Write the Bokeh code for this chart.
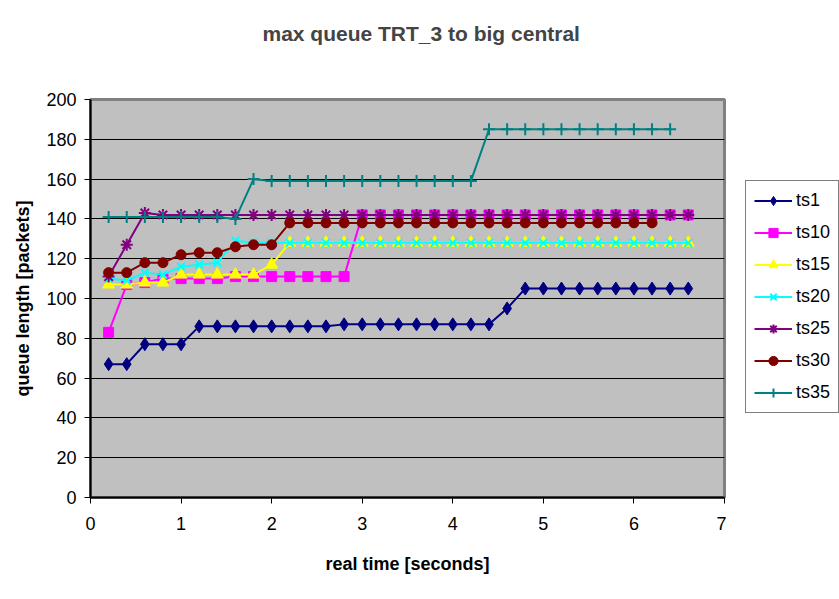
from bokeh.plotting import figure
from bokeh.models import Range1d, FixedTicker, Legend, LegendItem, Title
from bokeh.layouts import row
from bokeh.embed import file_html
from bokeh.resources import INLINE

# ---- data ----
x_ts1 = [0.2, 0.4, 0.6, 0.8, 1.0, 1.2, 1.4, 1.6, 1.8, 2.0, 2.2, 2.4, 2.6, 2.8, 3.0, 3.2, 3.4,
         3.6, 3.8, 4.0, 4.2, 4.4, 4.6, 4.8, 5.0, 5.2, 5.4, 5.6, 5.8, 6.0, 6.2, 6.4, 6.6]
ts1 = [67, 67, 77, 77, 77, 86, 86, 86, 86, 86, 86, 86, 86, 87, 87, 87, 87,
       87, 87, 87, 87, 87, 95, 105, 105, 105, 105, 105, 105, 105, 105, 105, 105]
ts10 = [83, 107, 108, 110, 110, 110, 110, 111, 111, 111, 111, 111, 111, 111, 142, 142, 142,
        142, 142, 142, 142, 142, 142, 142, 142, 142, 142, 142, 142, 142, 142, 142, 142]
ts15 = [107, 107, 108, 108, 112, 112, 112, 112, 112, 117, 128, 128, 128, 128, 128, 128, 128,
        128, 128, 128, 128, 128, 128, 128, 128, 128, 128, 128, 128, 128, 128, 128, 128]
ts20 = [110, 109, 113, 112, 116, 117, 118, 129, 128, 128, 128, 128, 128, 128, 128, 128, 128,
        128, 128, 128, 128, 128, 128, 128, 128, 128, 128, 128, 128, 128, 128, 128, 128]
ts25 = [111, 127, 143, 142, 142, 142, 142, 142, 142, 142, 142, 142, 142, 142, 142, 142, 142,
        142, 142, 142, 142, 142, 142, 142, 142, 142, 142, 142, 142, 142, 142, 142, 142]
x_ts30 = [0.2, 0.4, 0.6, 0.8, 1.0, 1.2, 1.4, 1.6, 1.8, 2.0, 2.2, 2.4, 2.6, 2.8, 3.0, 3.2,
          3.4, 3.6, 3.8, 4.0, 4.2, 4.4, 4.6, 4.8, 5.0, 5.2, 5.4, 5.6, 5.8, 6.0, 6.2]
ts30 = [113, 113, 118, 118, 122, 123, 123, 126, 127, 127, 138, 138, 138, 138, 138, 138,
        138, 138, 138, 138, 138, 138, 138, 138, 138, 138, 138, 138, 138, 138, 138]
x_ts35 = [0.2, 0.4, 0.6, 0.8, 1.0, 1.2, 1.4, 1.6, 1.8, 2.0, 2.2, 2.4, 2.6, 2.8, 3.0, 3.2,
          3.4, 3.6, 3.8, 4.0, 4.2, 4.4, 4.6, 4.8, 5.0, 5.2, 5.4, 5.6, 5.8, 6.0, 6.2, 6.4]
ts35 = [141, 141, 141, 141, 141, 141, 141, 140, 160, 159, 159, 159, 159, 159, 159, 159,
        159, 159, 159, 159, 159, 185, 185, 185, 185, 185, 185, 185, 185, 185, 185, 185]

y_ticks = [0, 20, 40, 60, 80, 100, 120, 140, 160, 180, 200]
x_ticks = [0, 1, 2, 3, 4, 5, 6, 7]

series = [
    ("ts1", x_ts1, ts1, "#000080", "diamond", 13),
    ("ts10", x_ts1, ts10, "#FF00FF", "square", 10),
    ("ts15", x_ts1, ts15, "#FFFF00", "triangle", 12),
    ("ts20", x_ts1, ts20, "#00FFFF", "x", 11),
    ("ts25", x_ts1, ts25, "#800080", "asterisk", 12),
    ("ts30", x_ts30, ts30, "#800000", "circle", 10),
    ("ts35", x_ts35, ts35, "#008080", "cross", 12),
]

FONT = "Liberation Sans"

p = figure(width=726, height=599, output_backend="svg", toolbar_location=None,
           x_range=Range1d(0, 7), y_range=Range1d(0, 200),
           min_border_left=90, min_border_right=2, min_border_top=99, min_border_bottom=102,
           title="max queue TRT_3 to big central")

p.title.text_font = FONT
p.title.text_font_size = "21px"
p.title.text_font_style = "bold"
p.title.align = "left"
p.title.offset = 172
p.title.standoff = 10

# spacer between title and plot area
p.add_layout(Title(text=" ", text_font_size="2px", standoff=46), "above")

p.background_fill_color = "#C0C0C0"
p.border_fill_color = "white"
p.outline_line_color = "#808080"
p.outline_line_width = 3

p.xgrid.grid_line_color = None
p.ygrid.grid_line_color = "black"
p.ygrid.grid_line_width = 1

p.xaxis.ticker = FixedTicker(ticks=x_ticks)
p.yaxis.ticker = FixedTicker(ticks=y_ticks)
for ax in (p.xaxis, p.yaxis):
    ax.axis_line_color = "black"
    ax.axis_line_width = 2
    ax.major_tick_line_color = "black"
    ax.major_tick_line_width = 1
    ax.major_tick_out = 6
    ax.major_tick_in = 0
    ax.minor_tick_line_color = None
    ax.major_label_text_font = FONT
    ax.major_label_text_font_size = "18px"
    ax.major_label_text_color = "black"
    ax.axis_label_text_font = FONT
    ax.axis_label_text_font_size = "18px"
    ax.axis_label_text_font_style = "bold"
    ax.axis_label_text_color = "black"

p.xaxis.axis_label = "real time [seconds]"
p.yaxis.axis_label = "queue length [packets]"
p.xaxis.major_label_standoff = 13
p.xaxis.axis_label_standoff = 21
p.yaxis.major_label_standoff = 8
p.yaxis.axis_label_standoff = 10

# legend panel: a small companion figure holding only the legend
# (its ranges keep the copies of the series out of view; only the legend shows)
q = figure(width=113, height=599, output_backend="svg", toolbar_location=None,
           x_axis_type=None, y_axis_type=None,
           x_range=Range1d(100, 101), y_range=Range1d(-10, -9),
           min_border_left=0, min_border_right=0, min_border_top=99, min_border_bottom=102)
q.outline_line_color = None
q.background_fill_color = "white"
q.border_fill_color = "white"

items = []
for name, xs, ys, color, marker, size in series:
    p.line(xs, ys, line_color=color, line_width=2)
    if marker in ("x", "asterisk", "cross"):
        p.scatter(xs, ys, marker=marker, size=size, line_color=color, line_width=2)
        m = q.scatter(xs, ys, marker=marker, size=size, line_color=color, line_width=2)
    else:
        p.scatter(xs, ys, marker=marker, size=size, fill_color=color, line_color=color)
        m = q.scatter(xs, ys, marker=marker, size=size, fill_color=color, line_color=color)
    ln = q.line(xs, ys, line_color=color, line_width=2)
    items.append(LegendItem(label=name, renderers=[ln, m]))

legend = Legend(items=items, location=(19, 84))
legend.label_text_font = FONT
legend.label_text_font_size = "18px"
legend.label_text_color = "black"
legend.border_line_color = "black"
legend.border_line_width = 1
legend.background_fill_color = "white"
legend.background_fill_alpha = 1
legend.glyph_width = 38
legend.glyph_height = 23
legend.label_height = 23
legend.label_standoff = 4
legend.spacing = 9
legend.padding = 8
legend.margin = 0
q.add_layout(legend)

layout = row(p, q, spacing=0)
open("out.html", "w").write(file_html(layout, INLINE))
